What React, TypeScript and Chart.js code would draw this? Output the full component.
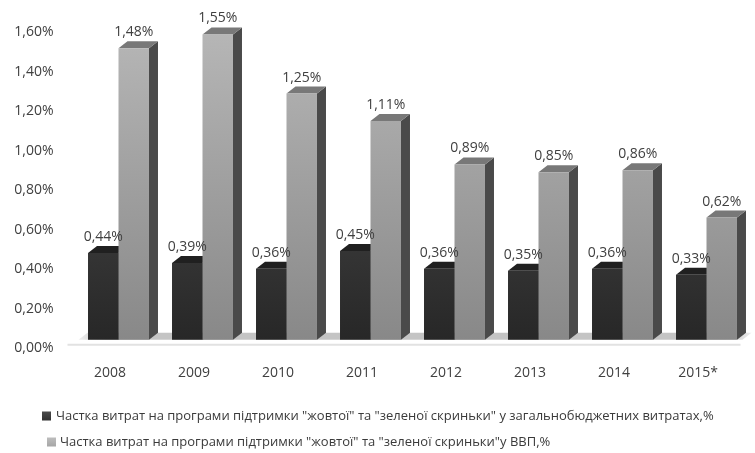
import React, { useEffect, useRef } from 'react';
import { Chart, registerables } from 'chart.js';

Chart.register(...registerables);

const categories = ['2008', '2009', '2010', '2011', '2012', '2013', '2014', '2015*'];
const budgetShare = [0.44, 0.39, 0.36, 0.45, 0.36, 0.35, 0.36, 0.33];
const gdpShare = [1.48, 1.55, 1.25, 1.11, 0.89, 0.85, 0.86, 0.62];
const seriesLabels = [
  'Частка витрат на програми підтримки "жовтої" та "зеленої скриньки" у загальнобюджетних витратах,%',
  'Частка витрат на програми підтримки "жовтої" та "зеленої скриньки"у ВВП,%',
];
const yMin = 0;
const yMax = 1.6;
const yStep = 0.2;

const FONT = '"Open Sans", "Noto Sans", sans-serif';
const DX = 9;
const DY = 7;
const topColors = ['#202020', '#787878'];
const sideColors = ['#1a1a1a', '#4a4a4a'];
const legendColors = ['#303030', '#a6a6a6'];
const legendPos = [
  { x: 42, y: 416, tx: 56, maxW: 695 },
  { x: 47, y: 442, tx: 60, maxW: 525 },
];

const fmt = (v: number) => v.toFixed(2).replace('.', ',') + '%';

const bar3d = {
  id: 'bar3d',
  beforeDatasetsDraw(chart: any) {
    const { ctx, chartArea } = chart;
    const base = chart.scales.y2.getPixelForValue(0);
    ctx.save();
    const fl = chartArea.left + 2;
    const fr = chartArea.right - 6;
    const g = ctx.createLinearGradient(fl, 0, fr + DX, 0);
    g.addColorStop(0, '#f0f0f0');
    g.addColorStop(0.04, '#c4c4c4');
    g.addColorStop(0.96, '#c4c4c4');
    g.addColorStop(1, '#ececec');
    ctx.fillStyle = g;
    ctx.beginPath();
    ctx.moveTo(fl, base);
    ctx.lineTo(fr, base);
    ctx.lineTo(fr + DX, base - DY);
    ctx.lineTo(fl + DX, base - DY);
    ctx.closePath();
    ctx.fill();
    ctx.strokeStyle = '#e2e2e2';
    ctx.lineWidth = 2;
    ctx.beginPath();
    ctx.moveTo(chartArea.left - 9, base + 5);
    ctx.lineTo(chartArea.right - 8, base + 5);
    ctx.stroke();
    chart.data.datasets.forEach((_ds: any, di: number) => {
      const meta = chart.getDatasetMeta(di);
      meta.data.forEach((bar: any) => {
        const { x, y, base: b, width } = bar.getProps(['x', 'y', 'base', 'width'], true);
        const l = x - width / 2;
        const r = x + width / 2;
        ctx.fillStyle = sideColors[di];
        ctx.beginPath();
        ctx.moveTo(r, y);
        ctx.lineTo(r + DX, y - DY);
        ctx.lineTo(r + DX, b - DY);
        ctx.lineTo(r, b);
        ctx.closePath();
        ctx.fill();
        ctx.fillStyle = topColors[di];
        ctx.beginPath();
        ctx.moveTo(l, y);
        ctx.lineTo(r, y);
        ctx.lineTo(r + DX, y - DY);
        ctx.lineTo(l + DX, y - DY);
        ctx.closePath();
        ctx.fill();
      });
    });
    ctx.restore();
  },
  afterDatasetsDraw(chart: any) {
    const { ctx } = chart;
    ctx.save();
    ctx.font = `14px ${FONT}`;
    ctx.fillStyle = '#404040';
    ctx.textAlign = 'center';
    ctx.textBaseline = 'middle';
    chart.data.datasets.forEach((ds: any, di: number) => {
      const meta = chart.getDatasetMeta(di);
      meta.data.forEach((bar: any, i: number) => {
        const { x, y } = bar.getProps(['x', 'y'], true);
        ctx.fillText(fmt(ds.data[i]), x, y - 16);
      });
    });
    ctx.restore();
  },
  afterDraw(chart: any) {
    const { ctx } = chart;
    ctx.save();
    ctx.font = `13px ${FONT}`;
    ctx.textBaseline = 'middle';
    ctx.textAlign = 'left';
    chart.data.datasets.forEach((ds: any, di: number) => {
      const p = legendPos[di];
      const g = ctx.createLinearGradient(0, p.y - 4.5, 0, p.y + 4.5);
      g.addColorStop(0, di === 0 ? '#4a4a4a' : '#bdbdbd');
      g.addColorStop(1, legendColors[di]);
      ctx.fillStyle = g;
      ctx.fillRect(p.x, p.y - 4.5, 9, 9);
      ctx.fillStyle = '#3a3a3a';
      ctx.fillText(ds.label, p.tx, p.y, p.maxW);
    });
    ctx.restore();
  },
};

export default function App() {
  const ref = useRef<HTMLCanvasElement | null>(null);
  useEffect(() => {
    if (!ref.current) return;
    const grad = (top: string, bottom: string) => (c: any) => {
      const ch = c.chart;
      const a = ch.chartArea;
      if (!a) return bottom;
      const g = ch.ctx.createLinearGradient(0, a.top, 0, a.bottom);
      g.addColorStop(0, top);
      g.addColorStop(1, bottom);
      return g;
    };
    const chart = new Chart(ref.current, {
      type: 'bar',
      data: {
        labels: categories,
        datasets: [
          {
            label: seriesLabels[0],
            data: budgetShare,
            yAxisID: 'y2',
            backgroundColor: grad('#555555', '#262626'),
            borderWidth: 0,
            categoryPercentage: 0.726,
            barPercentage: 1,
          },
          {
            label: seriesLabels[1],
            data: gdpShare,
            yAxisID: 'y2',
            backgroundColor: grad('#b6b6b6', '#878787'),
            borderWidth: 0,
            categoryPercentage: 0.726,
            barPercentage: 1,
          },
        ],
      },
      options: {
        responsive: false,
        animation: false,
        events: [],
        layout: { padding: { top: 32, left: 0, right: 6.5, bottom: 56 } },
        plugins: {
          legend: { display: false },
          tooltip: { enabled: false },
        },
        scales: {
          x: {
            grid: { display: false, drawTicks: false },
            border: { display: false },
            ticks: {
              color: '#404040',
              font: { family: FONT, size: 14 },
              padding: 16,
              labelOffset: -8.5,
              maxRotation: 0,
              autoSkip: false,
            },
          },
          y: {
            min: yMin,
            max: yMax,
            grid: { display: false, drawTicks: false },
            border: { display: false },
            ticks: {
              stepSize: yStep,
              color: '#404040',
              font: { family: FONT, size: 14 },
              padding: 23,
              callback: (v: any) => fmt(Number(v)),
            },
            afterFit: (s: any) => {
              s.width = 76.5;
            },
          },
          y2: {
            display: false,
            min: -0.043,
            max: 1.5625,
          },
        },
      },
      plugins: [bar3d],
    });
    return () => chart.destroy();
  }, []);
  return (
    <div style={{ position: 'fixed', left: 0, top: 0, width: 755, height: 453, background: '#fff' }}>
      <canvas ref={ref} width={755} height={453} style={{ width: 755, height: 453 }} />
    </div>
  );
}
